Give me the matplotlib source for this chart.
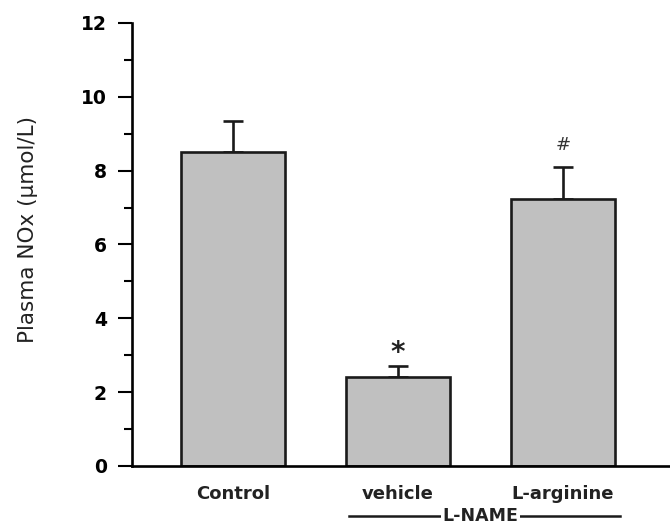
"""Plasma NOx bar chart: Control vs L-NAME (vehicle / L-arginine)."""

import matplotlib
matplotlib.use("Agg")
import matplotlib.pyplot as plt
import matplotlib.transforms as mtransforms

# ---------------------------------------------------------------------------
# Data
# ---------------------------------------------------------------------------

groups = ["Control", "vehicle", "L-arginine"]
means = [8.50, 2.40, 7.24]
errors = [0.84, 0.30, 0.87]
marks = ["", "*", "#"]

# ---------------------------------------------------------------------------
# Plot
# ---------------------------------------------------------------------------

plt.rcParams["font.family"] = ["DejaVu Sans"]

fig = plt.figure(figsize=(6.7, 5.26), dpi=100)
ax = fig.add_axes([0.197, 0.1141, 0.803, 0.8422])

x = list(range(len(groups)))
ax.bar(x, means, width=0.625, color="#c0c0c0", edgecolor="#1a1a1a", linewidth=1.9, zorder=2)
ax.errorbar(x, means, yerr=[[0] * len(errors), errors], fmt="none", ecolor="#1a1a1a",
            elinewidth=1.9, capsize=7, capthick=1.9, zorder=1)

# significance marks above the error bars
for xi, m, e, mk in zip(x, means, errors, marks):
    if not mk:
        continue
    if mk == "*":
        ax.text(xi, m + e - 0.02, mk, ha="center", va="bottom", fontsize=20,
                fontweight="bold", color="#222222")
    else:
        ax.text(xi, m + e + 0.35, mk, ha="center", va="bottom", fontsize=13,
                color="#333333")

ax.set_ylim(0, 12)
ax.set_xlim(-0.612, 2.648)
ax.set_yticks(range(0, 13, 2))
ax.set_yticks(range(1, 12, 2), minor=True)
ax.set_xticks(x)
ax.set_xticklabels(groups, fontsize=13, fontweight="bold", color="#222222")
ax.tick_params(axis="x", length=0, pad=14)
ax.tick_params(axis="y", which="major", length=10, width=1.5, labelsize=13.5, pad=8)
ax.tick_params(axis="y", which="minor", length=6, width=1.5)
for lab in ax.get_yticklabels():
    lab.set_fontweight("bold")

ax.spines[["top", "right"]].set_visible(False)
ax.spines["left"].set_linewidth(1.9)
ax.spines["bottom"].set_linewidth(1.9)

ax.set_ylabel("Plasma NOx (\u03bcmol/L)", fontsize=15.5, color="#222222")
ax.yaxis.set_label_coords(-0.175, 0.533)

# L-NAME bracket under the two treated groups
trans = mtransforms.blended_transform_factory(ax.transData, ax.transAxes)
ax.plot([0.703, 2.345], [-0.113, -0.113], color="#1a1a1a", linewidth=1.8,
        transform=trans, clip_on=False)
ax.text(1.5, -0.113, "L-NAME", transform=trans, ha="center", va="center",
        fontsize=12.5, fontweight="bold", color="#222222",
        bbox=dict(facecolor="white", edgecolor="none", pad=1))

fig.savefig("out.png", dpi=100)
plt.close(fig)
